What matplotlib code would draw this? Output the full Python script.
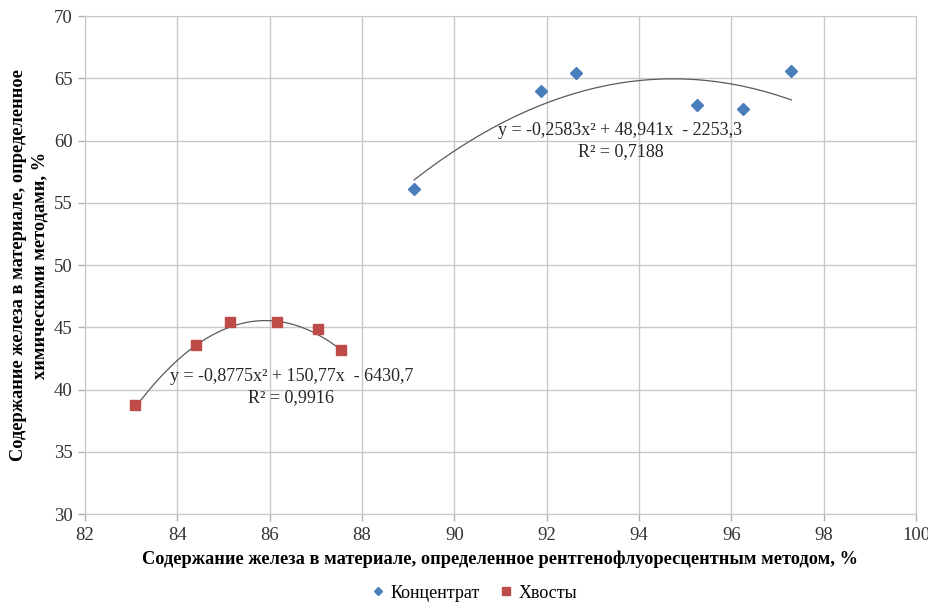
import matplotlib.pyplot as plt
import numpy as np

plt.rcParams['font.family'] = ['Liberation Serif', 'DejaVu Serif']

# Концентрат: рентгенофлуоресцентный метод / химический метод, %
x_konc = [89.13, 91.88, 92.64, 95.26, 96.26, 97.30]
y_konc = [56.1, 63.95, 65.4, 62.85, 62.55, 65.6]

# Хвосты
x_hvost = [83.08, 84.40, 85.14, 86.15, 87.04, 87.55]
y_hvost = [38.75, 43.55, 45.4, 45.4, 44.9, 43.2]

# коэффициенты полиномиальных линий тренда (a*x^2 + b*x + c) и R^2
coef_konc = [-0.2583, 48.941, -2253.3]
r2_konc = 0.7188
coef_hvost = [-0.8775, 150.77, -6430.7]
r2_hvost = 0.9916


def fmt(v, nd):
    # десятичная запятая, как в подписи Excel
    return f'{v:.{nd}f}'.replace('.', ',')


fig = plt.figure(figsize=(9.29, 6.07), dpi=100)
ax = fig.add_axes([0.0915, 0.1532, 0.8945, 0.8204])

ax.set_xlim(82, 100)
ax.set_ylim(30, 70)
ax.set_xticks(np.arange(82, 101, 2))
ax.set_yticks(np.arange(30, 71, 5))
ax.grid(True, color='#c8c8c8', linewidth=1.0)
ax.set_axisbelow(True)
for s in ax.spines.values():
    s.set_color('#c8c8c8')
ax.tick_params(colors='#b0b0b0', labelcolor='#333333', labelsize=13.5, length=5, width=1)
ax.tick_params(axis='x', pad=4)
ax.tick_params(axis='y', pad=4)

# линии тренда по уравнениям
xs = np.linspace(min(x_konc), max(x_konc), 200)
ax.plot(xs, np.polyval(coef_konc, xs), color='#5a5a5a', linewidth=0.9, zorder=2)
xs = np.linspace(min(x_hvost), max(x_hvost), 200)
ax.plot(xs, np.polyval(coef_hvost, xs), color='#5a5a5a', linewidth=0.9, zorder=2)

# точки
ax.plot(x_konc, y_konc, 'D', color='#4a7ebb', markersize=6.5, linestyle='none',
        label='Концентрат', zorder=3)
ax.plot(x_hvost, y_hvost, 's', color='#be4b48', markersize=7.5, linestyle='none',
        label='Хвосты', zorder=3)

# подписи уравнений
eq_k = f'y = {fmt(coef_konc[0], 4)}x² + {fmt(coef_konc[1], 3)}x  - {fmt(-coef_konc[2], 1)}'
ax.text(93.6, 60.8, eq_k, ha='center', va='center', fontsize=13, color='#262626')
ax.text(93.6, 59.15, f'R² = {fmt(r2_konc, 4)}', ha='center', va='center',
        fontsize=13, color='#262626')

eq_h = f'y = {fmt(coef_hvost[0], 4)}x² + {fmt(coef_hvost[1], 2)}x  - {fmt(-coef_hvost[2], 1)}'
ax.text(86.47, 41.05, eq_h, ha='center', va='center', fontsize=13, color='#262626')
ax.text(86.47, 39.35, f'R² = {fmt(r2_hvost, 4)}', ha='center', va='center',
        fontsize=13, color='#262626')

ax.set_xlabel('Содержание железа в материале, определенное рентгенофлуоресцентным методом, %',
              fontsize=13.2, fontweight='bold', labelpad=5)
ax.set_ylabel('Содержание железа в материале, определенное\nхимическими методами, %',
              fontsize=13.2, fontweight='bold', labelpad=4, linespacing=1.3)

fig.legend(loc='lower center', bbox_to_anchor=(0.51, -0.018), ncol=2, frameon=False,
           fontsize=13, handletextpad=0.25, columnspacing=1.0, markerscale=0.7,
           handlelength=0.9)

fig.savefig('out.png', dpi=100)
